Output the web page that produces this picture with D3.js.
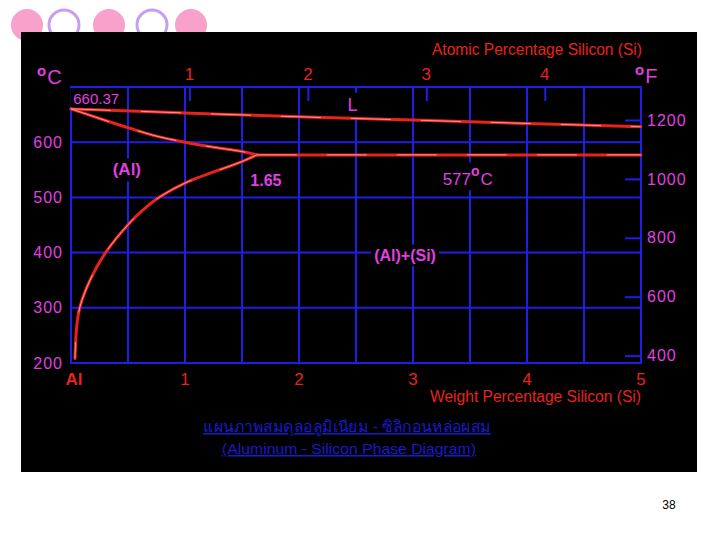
<!DOCTYPE html>
<html>
<head>
<meta charset="utf-8">
<script src="https://cdn.jsdelivr.net/npm/d3@7"></script>
<style>
  body { margin: 0; background: #fff; }
  svg text { font-family: "Liberation Sans", Arial, sans-serif; }
</style>
</head>
<body>
<div id="viz"></div>
<script>
var W = 720, H = 540;

// temperature ticks (deg C left, deg F right)
var celsiusTicks = [200, 300, 400, 500, 600];
var fahrenheitTicks = [400, 600, 800, 1000, 1200];
// weight % Si ticks (bottom) and atomic % Si ticks (top)
var weightTicks = [0, 1, 2, 3, 4, 5];
var atomicTicks = [1, 2, 3, 4];
var gridWeight = [0.5, 1, 1.5, 2, 2.5, 3, 3.5, 4, 4.5];
var gridTemp = [300, 400, 500, 600];

// phase boundaries [wt% Si, deg C]
var liquidus = [[0, 660.37], [1, 653], [2, 646], [3, 640], [4, 634], [5, 628]];
var solidus = [[0, 660.37], [0.25, 643], [0.52, 625], [0.75, 611], [1, 600], [1.25, 591], [1.5, 583], [1.63, 577]];
var solvus = [[1.63, 577], [1.5, 565], [1, 526], [0.78, 501], [0.63, 477], [0.52, 455], [0.3, 399], [0.167, 350], [0.079, 302], [0.05, 266], [0.035, 208]];
var eutectic = [[1.63, 577], [5, 577]];

// annotations [wt%, deg C, text]
var notes = [
  { wt: 0.02, t: 669, text: "660.37", anchor: "start", bold: false, size: 15 },
  { wt: 2.47, t: 657, text: "L", anchor: "middle", bold: false, size: 18 },
  { wt: 0.49, t: 540, text: "(Al)", anchor: "middle", bold: true, size: 17 },
  { wt: 1.71, t: 521, text: "1.65", anchor: "middle", bold: true, size: 16 },
  { wt: 2.93, t: 385, text: "(Al)+(Si)", anchor: "middle", bold: true, size: 16 }
];

var red = "#e8231c", magenta = "#e040e0", blue = "#1e1ee6";

var svg = d3.select("#viz").append("svg")
    .attr("width", W)
    .attr("height", H);

// decorative circles
var dots = [{ cx: 27, fill: true }, { cx: 64, fill: false }, { cx: 109, fill: true }, { cx: 152, fill: false }, { cx: 191, fill: true }];
svg.selectAll(".dot").data(dots).enter().append("circle")
    .attr("cx", function(d) { return d.cx; })
    .attr("cy", 25)
    .attr("r", function(d) { return d.fill ? 16 : 15; })
    .attr("fill", function(d) { return d.fill ? "#f9a0cb" : "none"; })
    .attr("stroke", function(d) { return d.fill ? "none" : "#c4a0f2"; })
    .attr("stroke-width", 3);

svg.append("rect")
    .attr("x", 21).attr("y", 32)
    .attr("width", 676).attr("height", 440)
    .attr("fill", "#000");

var x = d3.scaleLinear().domain([0, 5]).range([71, 641]);
var y = d3.scaleLinear().domain([200, 700]).range([363, 87]);
var yF = d3.scaleLinear().domain([400, 1200]).range([355.6, 120]);

function atToWt(a) {
  return 100 * a * 28.09 / (a * 28.09 + (100 - a) * 26.98);
}
var xAt = d3.scaleLinear().domain([0, 5]).range([x(0), x(atToWt(5))]);

// grid
var grid = svg.append("g").attr("stroke", blue).attr("stroke-width", 2);
grid.selectAll(".gv").data(gridWeight).enter().append("line")
    .attr("x1", function(d) { return x(d); }).attr("x2", function(d) { return x(d); })
    .attr("y1", y(700)).attr("y2", y(200));
grid.selectAll(".gh").data(gridTemp).enter().append("line")
    .attr("x1", x(0)).attr("x2", x(5))
    .attr("y1", function(d) { return y(d); }).attr("y2", function(d) { return y(d); });
grid.append("rect")
    .attr("x", x(0)).attr("y", y(700))
    .attr("width", x(5) - x(0)).attr("height", y(200) - y(700))
    .attr("fill", "none");

// axes
function styleAxis(g, color, size) {
  g.select(".domain").remove();
  g.selectAll(".tick line").attr("stroke", blue).attr("stroke-width", 2);
  g.selectAll(".tick text")
      .attr("fill", color)
      .attr("font-size", size)
      .attr("font-family", "'Liberation Sans', Arial, sans-serif")
      .attr("letter-spacing", 1);
}

svg.append("g")
    .attr("transform", "translate(" + x(0) + ",0)")
    .call(d3.axisLeft(y).tickValues(celsiusTicks).tickSize(0).tickPadding(8).tickFormat(d3.format("d")))
    .call(styleAxis, magenta, 16);

svg.append("g")
    .attr("transform", "translate(" + x(5) + ",0)")
    .call(d3.axisRight(yF).tickValues(fahrenheitTicks).tickSize(-16).tickPadding(6).tickFormat(d3.format("d")))
    .call(styleAxis, magenta, 16);

var bottom = svg.append("g")
    .attr("transform", "translate(0," + y(200) + ")")
    .call(d3.axisBottom(x).tickValues(weightTicks).tickSize(0).tickPadding(10)
      .tickFormat(function(d) { return d === 0 ? "Al" : d; }))
    .call(styleAxis, red, 17);
bottom.selectAll(".tick text")
    .filter(function(d) { return d === 0; })
    .attr("font-weight", "bold")
    .attr("letter-spacing", 0)
    .attr("text-anchor", "start")
    .attr("x", -6);

svg.append("g")
    .attr("transform", "translate(0," + y(700) + ")")
    .call(d3.axisTop(xAt).tickValues(atomicTicks).tickSize(-14).tickPadding(7).tickFormat(d3.format("d")))
    .call(styleAxis, red, 17);

// axis titles
svg.append("text")
    .attr("x", 432).attr("y", 55)
    .attr("textLength", 210).attr("lengthAdjust", "spacingAndGlyphs")
    .attr("font-size", 16).attr("fill", red)
    .text("Atomic Percentage Silicon (Si)");
svg.append("text")
    .attr("x", 430).attr("y", 402)
    .attr("textLength", 211).attr("lengthAdjust", "spacingAndGlyphs")
    .attr("font-size", 16).attr("fill", red)
    .text("Weight Percentage Silicon (Si)");

function degree(xp, yp, unit) {
  var t = svg.append("text").attr("x", xp).attr("y", yp).attr("fill", magenta);
  t.append("tspan").attr("font-size", 15).attr("font-weight", "bold").attr("dy", -8).text("o");
  t.append("tspan").attr("font-size", 20).attr("dy", 8).attr("dx", 1).text(unit);
}
degree(37, 84, "C");
degree(635, 83, "F");

// annotation backgrounds and text
var noteG = svg.append("g");
notes.forEach(function(n) {
  var t = noteG.append("text")
      .attr("x", x(n.wt)).attr("y", y(n.t))
      .attr("text-anchor", n.anchor)
      .attr("font-size", n.size)
      .attr("font-weight", n.bold ? "bold" : "normal")
      .attr("fill", magenta)
      .text(n.text);
  var b = t.node().getBBox();
  noteG.insert("rect", "text")
      .attr("x", b.x - 3).attr("y", b.y - 2)
      .attr("width", b.width + 6).attr("height", b.height + 4)
      .attr("fill", "#000");
});

// 577 C label
var euG = svg.append("g");
var eu = euG.append("text").attr("x", x(3.26)).attr("y", y(522)).attr("fill", magenta).attr("font-size", 17);
eu.append("tspan").text("577");
eu.append("tspan").attr("font-size", 14).attr("font-weight", "bold").attr("dy", -9).text("o");
eu.append("tspan").attr("dy", 9).attr("dx", 1).text("C");
var eb = eu.node().getBBox();
euG.insert("rect", "text").attr("x", eb.x - 3).attr("y", eb.y - 1).attr("width", eb.width + 6).attr("height", eb.height + 2).attr("fill", "#000");

// phase lines
var line = d3.line()
    .x(function(d) { return x(d[0]); })
    .y(function(d) { return y(d[1]); })
    .curve(d3.curveCatmullRom);

var curves = [liquidus, solidus, solvus, eutectic];
var lg = svg.append("g").attr("fill", "none");
lg.selectAll(".ph").data(curves).enter().append("path")
    .attr("d", line)
    .attr("stroke", red)
    .attr("stroke-width", 3)
    .attr("stroke-linecap", "round");
lg.selectAll(".hl").data(curves).enter().append("path")
    .attr("d", line)
    .attr("stroke", "#ffb4b4")
    .attr("stroke-width", 1)
    .attr("stroke-dasharray", "40,30")
    .attr("opacity", 0.8);

// caption
var cap = svg.append("g").attr("fill", "#1a1acc").attr("text-anchor", "middle");
cap.append("text")
    .attr("x", 347).attr("y", 432)
    .attr("font-size", 15)
    .attr("text-decoration", "underline")
    .attr("textLength", 288).attr("lengthAdjust", "spacingAndGlyphs")
    .text("แผนภาพสมดุลอลูมิเนียม - ซิลิกอนหล่อผสม");
cap.append("text")
    .attr("x", 349).attr("y", 454)
    .attr("font-size", 15)
    .attr("text-decoration", "underline")
    .attr("textLength", 254).attr("lengthAdjust", "spacingAndGlyphs")
    .text("(Aluminum - Silicon  Phase  Diagram)");

// page number
svg.append("text")
    .attr("x", 669).attr("y", 509)
    .attr("text-anchor", "middle")
    .attr("font-size", 12)
    .attr("fill", "#000")
    .text("38");
</script>
</body>
</html>
